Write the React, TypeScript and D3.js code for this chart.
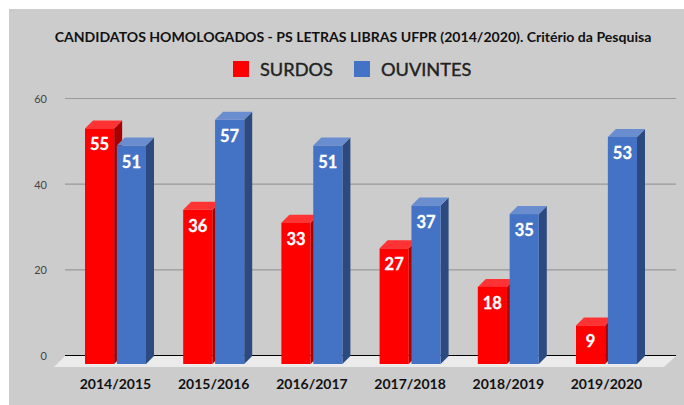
import { useEffect, useRef } from 'react'
import * as d3 from 'd3'

const categories = ['2014/2015', '2015/2016', '2016/2017', '2017/2018', '2018/2019', '2019/2020']
const surdos = [55, 36, 33, 27, 18, 9]
const ouvintes = [51, 57, 51, 37, 35, 53]
const yTicks = [0, 20, 40, 60]

const FONT = 'Lato, "Open Sans", sans-serif'
const DEPTH = 8

const seriesList = [
  { name: 'SURDOS', values: surdos, front: '#ff0000', side: '#a80000', top: '#ff3333', legendX: 233 },
  { name: 'OUVINTES', values: ouvintes, front: '#4472c4', side: '#2c4a80', top: '#6a8dd0', legendX: 354 },
]

export default function App() {
  const svgRef = useRef<SVGSVGElement>(null)

  useEffect(() => {
    const svg = d3.select(svgRef.current)
    svg.selectAll('*').remove()

    // painel cinza
    svg.append('rect').attr('x', 9).attr('y', 9).attr('width', 675).attr('height', 396).attr('fill', '#cccccc')

    svg.append('text')
      .attr('x', 353).attr('y', 41.5)
      .attr('text-anchor', 'middle')
      .attr('font-family', FONT).attr('font-weight', 700).attr('font-size', 14.08)
      .attr('fill', '#111')
      .text('CANDIDATOS HOMOLOGADOS - PS LETRAS LIBRAS UFPR (2014/2020). Critério da Pesquisa')

    // legenda
    seriesList.forEach(s => {
      svg.append('rect')
        .attr('x', s.legendX).attr('y', 61).attr('width', 16).attr('height', 16)
        .attr('fill', s.front)
      svg.append('text')
        .attr('x', s.legendX + 27).attr('y', 76)
        .attr('font-family', FONT).attr('font-weight', 400).attr('font-size', 18.2)
        .attr('stroke', '#222').attr('stroke-width', 0.4)
        .attr('fill', '#222')
        .text(s.name)
    })

    // eixo de fundo
    const yBack = d3.scaleLinear().domain([0, 60]).range([355.5, 98.5])
    const yFront = (v: number) => yBack(v) + DEPTH + 0.5

    const x0 = d3.scaleBand<string>().domain(categories).range([66.4, 655.6])
    const x1 = d3.scaleBand<string>()
      .domain(seriesList.map(s => s.name))
      .range([x0.bandwidth() / 2 - 30.5, x0.bandwidth() / 2 + 30.5])
      .paddingInner(0.085)

    const grid = svg.append('g')
    yTicks.forEach(t => {
      grid.append('line')
        .attr('x1', 65).attr('x2', 676)
        .attr('y1', yBack(t)).attr('y2', yBack(t))
        .attr('stroke', t === 0 ? '#000' : '#999')
        .attr('stroke-width', t === 0 ? 1 : 1.2)
      grid.append('text')
        .attr('x', 47).attr('y', yBack(t) + 4.5)
        .attr('text-anchor', 'end')
        .attr('font-family', FONT).attr('font-size', 11)
        .attr('fill', '#444')
        .text(t)
    })

    // piso
    const floorY = yBack(0)
    svg.append('polygon')
      .attr('points', [[65, floorY + 0.5], [676, floorY + 0.5], [664, floorY + 11.5], [54, floorY + 11.5]].map(p => p.join(',')).join(' '))
      .attr('fill', '#ebebeb')

    // barras 3D
    const line = d3.line()
    categories.forEach((c, i) => {
      const g = svg.append('g').attr('transform', `translate(${x0(c)},0)`)
      seriesList.forEach(s => {
        const v = s.values[i]
        const xl = x1(s.name) as number
        const xr = xl + x1.bandwidth()
        const yt = yFront(v)
        const yb = yFront(0)

        g.append('path')
          .attr('d', line([[xr, yt], [xr + DEPTH, yt - DEPTH], [xr + DEPTH, yb - DEPTH], [xr, yb]]) + 'Z')
          .attr('fill', s.side)
        g.append('path')
          .attr('d', line([[xl, yt], [xl + DEPTH, yt - DEPTH], [xr + DEPTH, yt - DEPTH], [xr, yt]]) + 'Z')
          .attr('fill', s.top)
        g.append('rect')
          .attr('x', xl).attr('y', yt)
          .attr('width', x1.bandwidth()).attr('height', yb - yt)
          .attr('fill', s.front)
        g.append('text')
          .attr('x', (xl + xr) / 2).attr('y', yt + 22)
          .attr('text-anchor', 'middle')
          .attr('font-family', FONT).attr('font-weight', 700).attr('font-size', 16.5)
          .attr('stroke', '#fff').attr('stroke-width', 0.3)
          .attr('fill', '#fff')
          .text(v)
      })

      svg.append('text')
        .attr('x', (x0(c) as number) + x0.bandwidth() / 2).attr('y', 389)
        .attr('text-anchor', 'middle')
        .attr('font-family', FONT).attr('font-weight', 700).attr('font-size', 14)
        .attr('fill', '#111')
        .text(c)
    })
  }, [])

  return (
    <svg
      ref={svgRef}
      width={684}
      height={405}
      style={{ position: 'fixed', left: 0, top: 0, display: 'block', background: '#fff' }}
    />
  )
}
